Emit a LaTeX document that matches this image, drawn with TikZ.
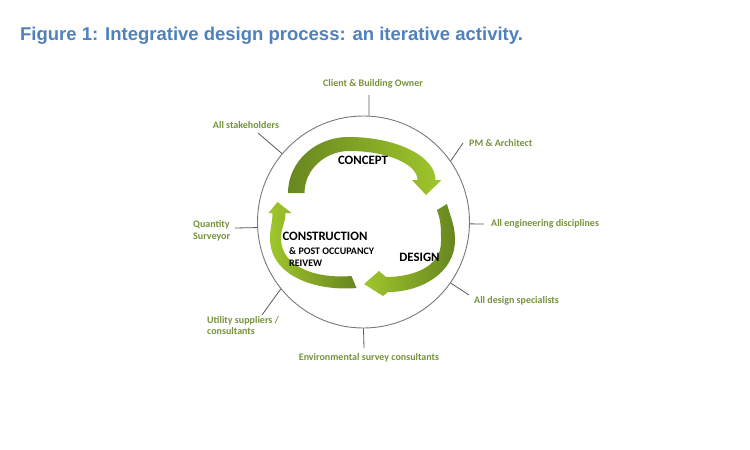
\documentclass[tikz,border=0pt]{standalone}
\usepackage{fontspec}
\setmainfont{Carlito}
\newfontfamily\titlefont{Liberation Sans}
\usepackage{tikz}

\definecolor{titleblue}{RGB}{79,129,189}
\definecolor{labgreen}{RGB}{118,146,60}
\definecolor{olivedark}{RGB}{104,134,32}
\definecolor{limelight}{RGB}{160,198,44}
\definecolor{ringgray}{RGB}{120,120,120}
\definecolor{tickgray}{RGB}{90,90,90}

\tikzset{
  lab/.style={font=\bfseries\fontsize{10}{11.5}\selectfont,text=labgreen,inner sep=0pt},
  stage/.style={font=\bfseries\fontsize{12.8}{15}\selectfont,inner sep=0pt},
  substage/.style={font=\bfseries\fontsize{10}{11.5}\selectfont,inner sep=0pt,align=left},
  tick/.style={draw=tickgray,line width=0.8pt}
}

\begin{document}
\begin{tikzpicture}[x=1pt,y=1pt]
\useasboundingbox (-363.5,-228) rectangle (386.5,222);
\node[anchor=base west,inner sep=0pt,text=titleblue,font=\titlefont\bfseries\fontsize{18.5}{22}\selectfont] (title) at (-343.5,181) {Figure 1: Integrative design process: an iterative activity.};

% outer ring
\node[circle,draw=ringgray,line width=0.9pt,minimum size=212pt,inner sep=0pt] (ring) at (0,0) {};

% three cycle arrows
\shade[left color=olivedark,right color=limelight]
  (-75.5,29) .. controls (-75.5,60) and (-48.4,85) .. (-15,85)
  .. controls (33,85) and (72,65.7) .. (72,42)
  -- (78,42) -- (62.5,27) -- (48.5,42) -- (54,42)
  .. controls (54,58) and (23.5,71) .. (-14,71)
  .. controls (-38.8,71) and (-59,52.2) .. (-59,29) -- cycle;
\shade[left color=limelight,right color=olivedark]
  (83.5,18) to[out=-75,in=90] (91.5,-18) to[out=-90,in=0] (24.5,-70)
  -- (19.5,-74) -- (0.5,-62) -- (15.5,-49) -- (22.5,-55)
  to[out=0,in=-90] (77.5,-20) to[out=90,in=-70] (73.5,12) -- cycle;
\shade[left color=limelight,right color=olivedark]
  (-7,-66) to[out=185,in=-90] (-93.5,-16) to[out=90,in=-90] (-91,9)
  -- (-95,9) -- (-86,20) -- (-72,9) -- (-78,9)
  to[out=-90,in=90] (-82.5,-16) to[out=-90,in=185] (-12,-54) -- cycle;

% stage names
\node[stage] (concept) at (-0.5,62) {CONCEPT};
\node[stage] (design) at (56,-35.5) {DESIGN};
\node[stage] (constr) at (-38.5,-14.7) {CONSTRUCTION};
\node[substage,anchor=west] (review) at (-74.5,-35) {\& POST OCCUPANCY\\REIVEW};

% people round the ring
\node[lab] (client) at (9.5,138) {Client \& Building Owner};
\node[lab,anchor=west] (pm) at (105.5,79) {PM \& Architect};
\node[lab,anchor=west] (eng) at (127.5,-2) {All engineering disciplines};
\node[lab,anchor=west] (spec) at (110.5,-79) {All design specialists};
\node[lab] (env) at (5.5,-136) {Environmental survey consultants};
\node[lab,anchor=west,align=left] (util) at (-156.5,-103.5) {Utility suppliers /\\consultants};
\node[lab,anchor=west,align=left] (qs) at (-170.5,-9) {Quantity\\Surveyor};
\node[lab] (stake) at (-117.5,97) {All stakeholders};

% ticks
\coordinate (clientT) at (5.5,127);
\coordinate (pmT) at (99.5,79);
\coordinate (engT) at (120.5,-2);
\coordinate (specT) at (105.5,-73);
\coordinate (envT) at (0.5,-126);
\coordinate (utilT) at (-101.5,-93);
\coordinate (qsT) at (-128.5,-6);
\coordinate (stakeT) at (-105.5,89);
\draw[tick] (ring.87) -- (clientT);
\draw[tick] (ring.35) -- (pmT);
\draw[tick] (ring.-1) -- (engT);
\draw[tick] (ring.-35) -- (specT);
\draw[tick] (ring.-90) -- (envT);
\draw[tick] (ring.219) -- (utilT);
\draw[tick] (ring.183) -- (qsT);
\draw[tick] (ring.140) -- (stakeT);
\end{tikzpicture}
\end{document}
